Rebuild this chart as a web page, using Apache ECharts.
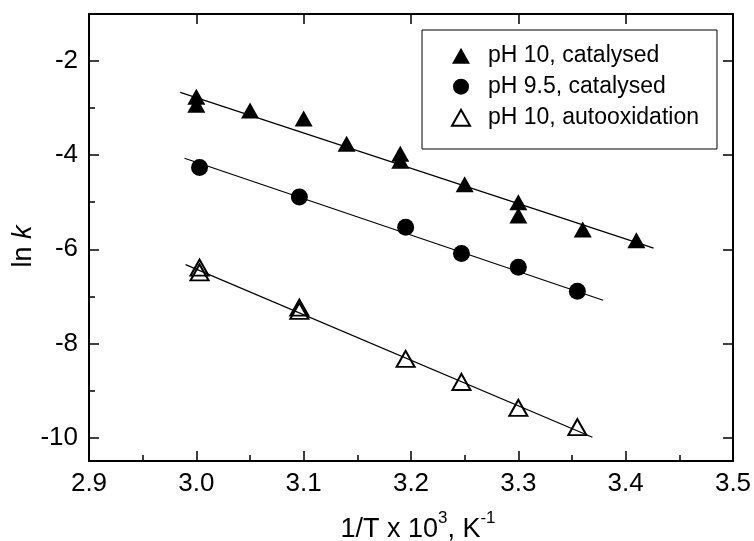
<!DOCTYPE html>
<html>
<head>
<meta charset="utf-8">
<script src="https://cdn.jsdelivr.net/npm/echarts@6/dist/echarts.min.js"></script>
<style>
  html, body { margin: 0; padding: 0; background: #fff; }
  #chart { width: 754px; height: 541px; }
</style>
</head>
<body>
<div id="chart"></div>
<script>
// Arrhenius plot: ln k versus 1/T for three conditions
const seriesNames = ['pH 10, catalysed', 'pH 9.5, catalysed', 'pH 10, autooxidation'];

// pH 10, catalysed (filled triangles)
const cat10X = [3.00, 3.00, 3.05, 3.10, 3.14, 3.19, 3.19, 3.25, 3.30, 3.30, 3.36, 3.41];
const cat10Y = [-2.76, -2.93, -3.05, -3.22, -3.76, -3.97, -4.12, -4.62, -5.00, -5.28, -5.58, -5.81];

// pH 9.5, catalysed (filled circles)
const cat95X = [3.003, 3.096, 3.195, 3.247, 3.300, 3.355];
const cat95Y = [-4.26, -4.89, -5.53, -6.09, -6.38, -6.89];

// pH 10, autooxidation (open triangles)
const autoX = [3.003, 3.003, 3.096, 3.096, 3.195, 3.247, 3.300, 3.355];
const autoY = [-6.39, -6.49, -7.24, -7.31, -8.33, -8.82, -9.37, -9.78];

// Linear fits, given by their end points [x, y]
const fitCat10 = [[2.985, -2.666], [3.426, -5.975]];
const fitCat95 = [[2.989, -4.066], [3.379, -7.084]];
const fitAuto = [[2.990, -6.327], [3.369, -9.996]];

// Axis ranges and ticks
const xRange = [2.9, 3.5];
const yRange = [-10.5, -1];
const xMajorTicks = [2.9, 3.0, 3.1, 3.2, 3.3, 3.4, 3.5];
const xMinorTicks = [2.95, 3.05, 3.15, 3.25, 3.35, 3.45];
const yMajorTicks = [-10, -8, -6, -4, -2];
const yMinorTicks = [-9, -7, -5, -3];

const FONT = '"Liberation Sans", Arial, Helvetica, sans-serif';
const BLACK = '#000';

function pairs(xs, ys) { return xs.map((x, i) => [x, ys[i]]); }

function xAxisDef(opts) {
  return Object.assign({
    type: 'value', gridIndex: 0, min: xRange[0], max: xRange[1],
    splitLine: { show: false },
    axisLine: { show: false, onZero: false },
    axisLabel: { show: false },
    axisTick: { show: false }
  }, opts);
}
function yAxisDef(opts) {
  return Object.assign({
    type: 'value', gridIndex: 0, min: yRange[0], max: yRange[1],
    splitLine: { show: false },
    axisLine: { show: false, onZero: false },
    axisLabel: { show: false },
    axisTick: { show: false }
  }, opts);
}

const chart = echarts.init(document.getElementById('chart'), null, { renderer: 'canvas' });

const option = {
  animation: false,
  backgroundColor: '#fff',
  textStyle: { fontFamily: FONT, color: BLACK },
  grid: { left: 89, right: 21, top: 14, bottom: 80, containLabel: false, outerBoundsMode: 'none' },
  legend: {
    data: seriesNames,
    orient: 'vertical',
    left: 422,
    top: 30,
    padding: [14.2, 18, 19.8, 29],
    borderColor: BLACK,
    borderWidth: 1,
    itemWidth: 18,
    itemHeight: 16,
    itemGap: 8,
    selectedMode: false,
    textStyle: { fontFamily: FONT, fontSize: 23, color: BLACK, padding: [0, 0, 0, 13] }
  },
  xAxis: [
    // bottom axis: line, major ticks and labels, title
    xAxisDef({
      position: 'bottom',
      axisLine: { show: true, onZero: false, lineStyle: { color: BLACK, width: 2 } },
      axisTick: { show: true, inside: true, length: 10, customValues: xMajorTicks, lineStyle: { color: BLACK, width: 1.5 } },
      axisLabel: {
        show: true, customValues: xMajorTicks, margin: 10,
        fontFamily: FONT, fontSize: 26, color: BLACK,
        formatter: v => Number(v).toFixed(1)
      },
      name: '1/T x 10{sup|3}, K{sup|-1}',
      nameLocation: 'middle',
      nameGap: 49,
      nameMoveOverlap: false,
      nameTextStyle: {
        fontFamily: FONT, fontSize: 27, color: BLACK, lineHeight: 40, padding: [0, 0, 0, 14],
        rich: { sup: { fontFamily: FONT, fontSize: 17, color: BLACK, lineHeight: 20, verticalAlign: 'top' } }
      }
    }),
    // bottom axis: minor ticks
    xAxisDef({
      position: 'bottom',
      axisTick: { show: true, inside: true, length: 6, customValues: xMinorTicks, lineStyle: { color: BLACK, width: 1.5 } }
    }),
    // top frame with major ticks
    xAxisDef({
      position: 'top',
      axisLine: { show: true, onZero: false, lineStyle: { color: BLACK, width: 2 } },
      axisTick: { show: true, inside: true, length: 10, customValues: xMajorTicks, lineStyle: { color: BLACK, width: 1.5 } }
    })
  ],
  yAxis: [
    // left axis: line, major ticks and labels, title
    yAxisDef({
      position: 'left',
      axisLine: { show: true, onZero: false, lineStyle: { color: BLACK, width: 2 } },
      axisTick: { show: true, inside: true, length: 10, customValues: yMajorTicks, lineStyle: { color: BLACK, width: 1.5 } },
      axisLabel: {
        show: true, customValues: yMajorTicks, margin: 11,
        fontFamily: FONT, fontSize: 26, color: BLACK,
        formatter: v => String(Math.round(v))
      },
      name: '{n|ln }{i|k}',
      nameLocation: 'middle',
      nameGap: 52,
      nameRotate: 90,
      nameMoveOverlap: false,
      nameTextStyle: {
        padding: [0, 18, 0, 0],
        rich: {
          n: { fontFamily: FONT, fontSize: 27, color: BLACK },
          i: { fontFamily: FONT, fontSize: 27, color: BLACK, fontStyle: 'italic' }
        }
      }
    }),
    // left axis: minor ticks
    yAxisDef({
      position: 'left',
      axisTick: { show: true, inside: true, length: 6, customValues: yMinorTicks, lineStyle: { color: BLACK, width: 1.5 } }
    }),
    // right frame with major ticks
    yAxisDef({
      position: 'right',
      axisLine: { show: true, onZero: false, lineStyle: { color: BLACK, width: 2 } },
      axisTick: { show: true, inside: true, length: 10, customValues: yMajorTicks, lineStyle: { color: BLACK, width: 1.5 } }
    })
  ],
  series: [
    {
      name: 'fit-cat10', type: 'line', xAxisIndex: 0, yAxisIndex: 0,
      data: fitCat10, showSymbol: false, symbol: 'none', silent: true, z: 1,
      lineStyle: { color: BLACK, width: 1.2 }
    },
    {
      name: 'fit-cat95', type: 'line', xAxisIndex: 0, yAxisIndex: 0,
      data: fitCat95, showSymbol: false, symbol: 'none', silent: true, z: 1,
      lineStyle: { color: BLACK, width: 1.2 }
    },
    {
      name: 'fit-auto', type: 'line', xAxisIndex: 0, yAxisIndex: 0,
      data: fitAuto, showSymbol: false, symbol: 'none', silent: true, z: 1,
      lineStyle: { color: BLACK, width: 1.2 }
    },
    {
      name: seriesNames[0], type: 'scatter', xAxisIndex: 0, yAxisIndex: 0,
      data: pairs(cat10X, cat10Y), symbol: 'triangle', symbolSize: [18, 16], z: 3,
      itemStyle: { color: BLACK, opacity: 1 }
    },
    {
      name: seriesNames[1], type: 'scatter', xAxisIndex: 0, yAxisIndex: 0,
      data: pairs(cat95X, cat95Y), symbol: 'circle', symbolSize: 17, z: 3,
      itemStyle: { color: BLACK, opacity: 1 }
    },
    {
      name: seriesNames[2], type: 'scatter', xAxisIndex: 0, yAxisIndex: 0,
      data: pairs(autoX, autoY), symbol: 'triangle', symbolSize: [18, 16], z: 3,
      itemStyle: { color: 'rgba(255,255,255,0)', borderColor: BLACK, borderWidth: 2, opacity: 1 }
    }
  ]
};

chart.setOption(option);
</script>
</body>
</html>
